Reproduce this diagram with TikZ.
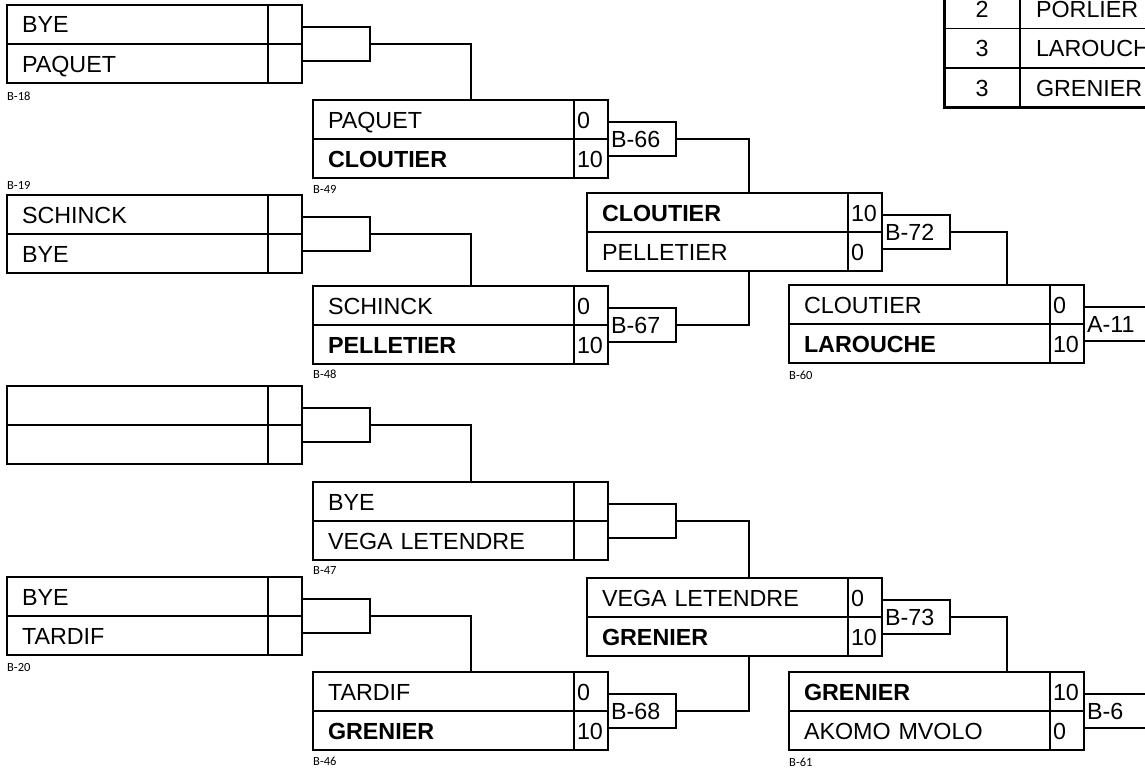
\documentclass[tikz,border=0pt]{standalone}
\usepackage{fontspec}
\setmainfont{Liberation Sans}
\newfontfamily\tagfont{Carlito}
\usetikzlibrary{positioning,fit}
\newcommand\brfont{\fontsize{23.3pt}{28pt}\selectfont}
\tikzset{
  brname/.style={
    draw=black, line width=1.3pt, outer sep=0pt,
    minimum height=39pt, text width=231pt, inner xsep=15pt, inner ysep=0pt,
    align=left, text height=17pt, text depth=0pt, font=\brfont
  },
  brwin/.style={brname,font=\brfont\bfseries},
  brscore/.style={
    draw=black, line width=1.3pt, outer sep=0pt,
    minimum height=39pt, text width=28pt, inner xsep=3pt, inner ysep=0pt,
    align=left, text height=17pt, text depth=0pt, font=\brfont
  },
  brlink/.style={draw=black, line width=1.3pt, outer sep=0pt, anchor=west,
    minimum width=68pt, minimum height=34pt, inner sep=0pt},
  brmatch/.style={brlink, text width=62pt, inner xsep=3pt, align=left,
    text height=17pt, text depth=0pt, font=\brfont},
  brline/.style={line width=1.3pt},
  brtag/.style={font=\tagfont\fontsize{12.5pt}{14pt}\selectfont, inner sep=0pt},
  tabnum/.style={draw=black, line width=1.3pt, outer sep=0pt, inner sep=0pt,
    minimum width=76pt, minimum height=39.5pt, text height=17pt, text depth=0pt, font=\brfont},
  tabname/.style={draw=black, line width=1.3pt, outer sep=0pt, inner ysep=0pt,
    minimum height=39.5pt, text width=200pt, inner xsep=16pt, align=left,
    text height=17pt, text depth=0pt, font=\brfont},
  tabframe/.style={draw=black, line width=3pt, inner sep=0pt}
}

\begin{document}
\begin{tikzpicture}[x=1pt,y=-1pt]
  \useasboundingbox (0,0) rectangle (1145,768);
  \clip (0,0) rectangle (1145,768);
  % standings table, top right
  \node[tabnum,anchor=north west] (t1) at (944,-11) {2};
  \node[tabname,right=0pt of t1] (t1n) {PORLIER};
  \node[tabnum,below=0pt of t1] (t2) {3};
  \node[tabname,right=0pt of t2] (t2n) {LAROUCHE};
  \node[tabnum,below=0pt of t2] (t3) {3};
  \node[tabname,right=0pt of t3] (t3n) {GRENIER};
  \node[tabframe,fit=(t1)(t3n)] (tab) {};
  % first round
  \node[brname,anchor=north west] (r18a) at (7,5) {BYE};
  \node[brscore,right=0pt of r18a] (r18as) {};
  \node[brname,below=0pt of r18a] (r18b) {PAQUET};
  \node[brscore,right=0pt of r18b] (r18bs) {};
  \node[brlink] (k18) at (r18as.south east) {};
  \node[brtag,anchor=north west] (lb18) at ([yshift=-9pt]r18b.south west) {B-18};
  \node[brname,anchor=north west] (r19a) at (7,195) {SCHINCK};
  \node[brscore,right=0pt of r19a] (r19as) {};
  \node[brname,below=0pt of r19a] (r19b) {BYE};
  \node[brscore,right=0pt of r19b] (r19bs) {};
  \node[brlink] (k19) at (r19as.south east) {};
  \node[brtag,anchor=south west] (lb19) at ([yshift=5pt]r19a.north west) {B-19};
  \node[brname,anchor=north west] (r00a) at (7,386) {};
  \node[brscore,right=0pt of r00a] (r00as) {};
  \node[brname,below=0pt of r00a] (r00b) {};
  \node[brscore,right=0pt of r00b] (r00bs) {};
  \node[brlink] (k00) at (r00as.south east) {};
  \node[brname,anchor=north west] (r20a) at (7,577) {BYE};
  \node[brscore,right=0pt of r20a] (r20as) {};
  \node[brname,below=0pt of r20a] (r20b) {TARDIF};
  \node[brscore,right=0pt of r20b] (r20bs) {};
  \node[brlink] (k20) at (r20as.south east) {};
  \node[brtag,anchor=north west] (lb20) at ([yshift=-8pt]r20b.south west) {B-20};
  % second round
  \node[brname,anchor=north west] (r49a) at (313,100) {PAQUET};
  \node[brscore,right=0pt of r49a] (r49as) {0};
  \node[brwin,below=0pt of r49a] (r49b) {CLOUTIER};
  \node[brscore,right=0pt of r49b] (r49bs) {10};
  \node[brmatch] (m66) at (r49as.south east) {B-66};
  \node[brtag,anchor=north west] (lb49) at ([yshift=-7pt]r49b.south west) {B-49};
  \node[brname,anchor=north west] (r48a) at (313,286) {SCHINCK};
  \node[brscore,right=0pt of r48a] (r48as) {0};
  \node[brwin,below=0pt of r48a] (r48b) {PELLETIER};
  \node[brscore,right=0pt of r48b] (r48bs) {10};
  \node[brmatch] (m67) at (r48as.south east) {B-67};
  \node[brtag,anchor=north west] (lb48) at ([yshift=-6pt]r48b.south west) {B-48};
  \node[brname,anchor=north west] (r47a) at (313,482) {BYE};
  \node[brscore,right=0pt of r47a] (r47as) {};
  \node[brname,below=0pt of r47a] (r47b) {VEGA LETENDRE};
  \node[brscore,right=0pt of r47b] (r47bs) {};
  \node[brlink] (k47) at (r47as.south east) {};
  \node[brtag,anchor=north west] (lb47) at ([yshift=-6pt]r47b.south west) {B-47};
  \node[brname,anchor=north west] (r46a) at (313,672) {TARDIF};
  \node[brscore,right=0pt of r46a] (r46as) {0};
  \node[brwin,below=0pt of r46a] (r46b) {GRENIER};
  \node[brscore,right=0pt of r46b] (r46bs) {10};
  \node[brmatch] (m68) at (r46as.south east) {B-68};
  \node[brtag,anchor=north west] (lb46) at ([yshift=-7pt]r46b.south west) {B-46};
  % third round
  \node[brwin,anchor=north west] (r72a) at (587,193) {CLOUTIER};
  \node[brscore,right=0pt of r72a] (r72as) {10};
  \node[brname,below=0pt of r72a] (r72b) {PELLETIER};
  \node[brscore,right=0pt of r72b] (r72bs) {0};
  \node[brmatch] (m72) at (r72as.south east) {B-72};
  \node[brname,anchor=north west] (r73a) at (587,578) {VEGA LETENDRE};
  \node[brscore,right=0pt of r73a] (r73as) {0};
  \node[brwin,below=0pt of r73a] (r73b) {GRENIER};
  \node[brscore,right=0pt of r73b] (r73bs) {10};
  \node[brmatch] (m73) at (r73as.south east) {B-73};
  % fourth round
  \node[brname,anchor=north west] (r60a) at (789,285) {CLOUTIER};
  \node[brscore,right=0pt of r60a] (r60as) {0};
  \node[brwin,below=0pt of r60a] (r60b) {LAROUCHE};
  \node[brscore,right=0pt of r60b] (r60bs) {10};
  \node[brmatch] (m11) at (r60as.south east) {A-11};
  \node[brtag,anchor=north west] (lb60) at ([yshift=-8pt]r60b.south west) {B-60};
  \node[brwin,anchor=north west] (r61a) at (789,672) {GRENIER};
  \node[brscore,right=0pt of r61a] (r61as) {10};
  \node[brname,below=0pt of r61a] (r61b) {AKOMO MVOLO};
  \node[brscore,right=0pt of r61b] (r61bs) {0};
  \node[brmatch] (m6) at (r61as.south east) {B-6};
  \node[brtag,anchor=north west] (lb61) at ([yshift=-8pt]r61b.south west) {B-61};
  % connectors
  \draw[brline] (k18.east) -| ([xshift=158pt]r49a.north west);
  \draw[brline] (k19.east) -| ([xshift=158pt]r48a.north west);
  \draw[brline] (k00.east) -| ([xshift=158pt]r47a.north west);
  \draw[brline] (k20.east) -| ([xshift=158pt]r46a.north west);
  \draw[brline] (m66.east) -| ([xshift=162pt]r72a.north west);
  \draw[brline] (m67.east) -| ([xshift=162pt]r72b.south west);
  \draw[brline] (k47.east) -| ([xshift=162pt]r73a.north west);
  \draw[brline] (m68.east) -| ([xshift=162pt]r73b.south west);
  \draw[brline] (m72.east) -| ([xshift=218pt]r60a.north west);
  \draw[brline] (m73.east) -| ([xshift=218pt]r61a.north west);
\end{tikzpicture}
\end{document}
